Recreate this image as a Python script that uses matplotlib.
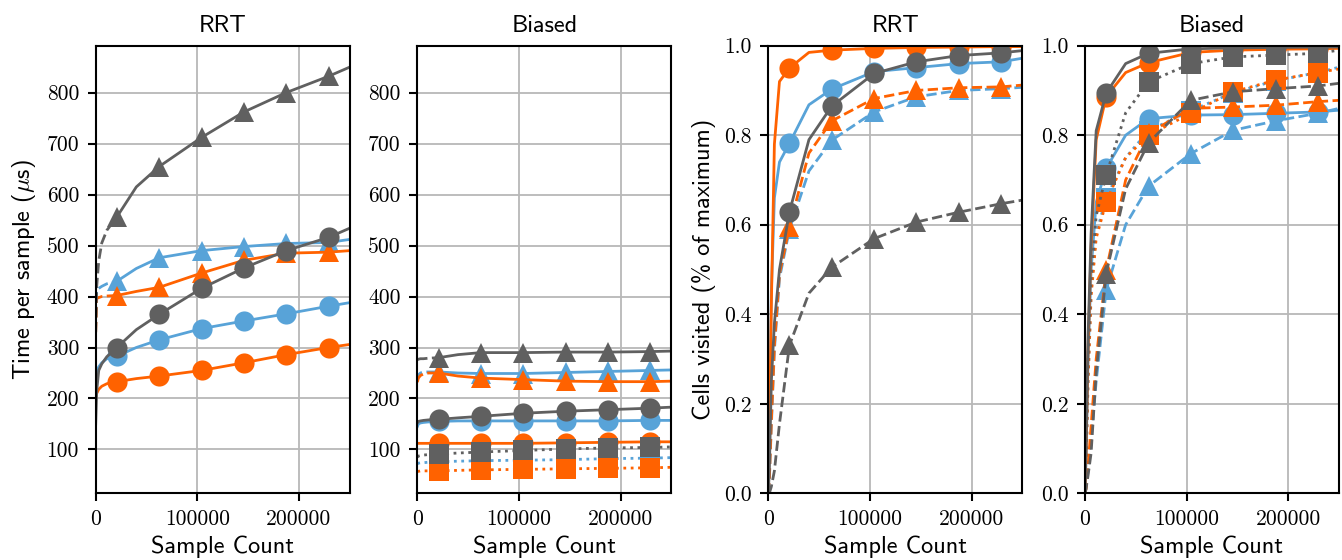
import matplotlib
matplotlib.use("Agg")
import matplotlib.pyplot as plt
from matplotlib.ticker import FuncFormatter

# sample counts at which values were read (markers sit on indices 5, 7..11)
samples = [0, 1000, 3000, 6000, 11000, 20833, 40000, 62500, 104167, 145833, 187500, 229167, 250000]
mark_idx = [5, 7, 8, 9, 10, 11]

# time per sample, RRT
rrt_time_blue_circ = [225, 250, 262, 270, 278, 283, 300, 315, 337, 352, 366, 381, 388]
rrt_time_orange_circ = [200, 210, 218, 224, 229, 233, 239, 244, 255, 270, 286, 300, 306]
rrt_time_gray_circ = [150, 215, 255, 268, 282, 300, 335, 365, 416, 456, 490, 516, 534]
rrt_time_blue_tri = [360, 412, 416, 420, 425, 430, 455, 476, 490, 498, 504, 506, 512]
rrt_time_orange_tri = [330, 396, 398, 400, 401, 402, 410, 418, 446, 471, 485, 487, 490]
rrt_time_gray_tri = [330, 420, 470, 505, 530, 556, 615, 655, 712, 762, 800, 832, 850]

# time per sample, Biased
bia_time_blue_circ = [145, 150, 152, 153, 154, 155, 156, 156, 156, 156, 156, 157, 157]
bia_time_orange_circ = [112, 112, 112, 112, 112, 112, 112, 112, 112, 113, 114, 115, 115]
bia_time_gray_circ = [152, 155, 156, 157, 158, 159, 162, 165, 171, 175, 178, 181, 183]
bia_time_blue_tri = [235, 246, 250, 252, 252, 252, 250, 249, 249, 251, 253, 255, 256]
bia_time_orange_tri = [232, 240, 245, 248, 250, 250, 244, 240, 237, 234, 233, 233, 234]
bia_time_gray_tri = [276, 277, 278, 278, 279, 280, 286, 290, 290, 291, 291, 292, 293]
bia_time_blue_sq = [72, 73, 74, 74, 75, 76, 77, 78, 79, 80, 82, 83, 84]
bia_time_orange_sq = [57, 57, 58, 58, 58, 58, 59, 60, 61, 62, 63, 64, 65]
bia_time_gray_sq = [85, 87, 88, 89, 90, 91, 93, 95, 98, 101, 103, 104, 105]

# cells visited, RRT
rrt_cov_blue_circ = [0, 0.15, 0.45, 0.66, 0.74, 0.782, 0.868, 0.903, 0.942, 0.951, 0.96, 0.964, 0.972]
rrt_cov_orange_circ = [0, 0.12, 0.42, 0.78, 0.92, 0.95, 0.985, 0.99, 0.994, 0.996, 0.997, 0.998, 0.998]
rrt_cov_gray_circ = [0, 0.05, 0.25, 0.38, 0.50, 0.629, 0.79, 0.865, 0.938, 0.964, 0.978, 0.984, 0.989]
rrt_cov_blue_tri = [0, 0.03, 0.15, 0.32, 0.48, 0.59, 0.72, 0.789, 0.852, 0.886, 0.9, 0.904, 0.907]
rrt_cov_orange_tri = [0, 0.03, 0.16, 0.33, 0.49, 0.596, 0.76, 0.832, 0.882, 0.9, 0.906, 0.908, 0.912]
rrt_cov_gray_tri = [0, 0.0, 0.015, 0.05, 0.155, 0.331, 0.447, 0.505, 0.569, 0.606, 0.628, 0.647, 0.655]

# cells visited, Biased
bia_cov_blue_circ = [0, 0.08, 0.3, 0.5, 0.65, 0.726, 0.80, 0.837, 0.845, 0.846, 0.849, 0.852, 0.856]
bia_cov_orange_circ = [0, 0.09, 0.32, 0.55, 0.79, 0.886, 0.94, 0.962, 0.985, 0.99, 0.992, 0.993, 0.994]
bia_cov_gray_circ = [0, 0.10, 0.35, 0.58, 0.81, 0.894, 0.96, 0.983, 0.993, 0.995, 0.996, 0.997, 0.997]
bia_cov_blue_tri = [0, 0.01, 0.05, 0.12, 0.25, 0.454, 0.6, 0.686, 0.759, 0.811, 0.832, 0.849, 0.86]
bia_cov_orange_tri = [0, 0.01, 0.06, 0.15, 0.30, 0.498, 0.70, 0.804, 0.86, 0.863, 0.867, 0.875, 0.878]
bia_cov_gray_tri = [0, 0.01, 0.04, 0.09, 0.27, 0.491, 0.68, 0.783, 0.878, 0.897, 0.904, 0.91, 0.916]
bia_cov_blue_sq = [0, 0.06, 0.25, 0.45, 0.58, 0.66, 0.75, 0.81, 0.855, 0.895, 0.922, 0.94, 0.952]
bia_cov_orange_sq = [0, 0.06, 0.25, 0.44, 0.57, 0.651, 0.75, 0.80, 0.849, 0.897, 0.923, 0.94, 0.948]
bia_cov_gray_sq = [0, 0.08, 0.30, 0.48, 0.62, 0.711, 0.85, 0.919, 0.96, 0.975, 0.979, 0.983, 0.99]

BLUE = "#58a3d8"
ORANGE = "#ff6200"
GRAY = "#606060"

plt.rcParams["mathtext.fontset"] = "cm"

fig = plt.figure(figsize=(13.42, 5.6), dpi=100)
W = 0.1893
H = 0.7993
B = 0.1191
ax1 = fig.add_axes([0.0713, B, W, H])
ax2 = fig.add_axes([0.3110, B, W, H])
ax3 = fig.add_axes([0.5725, B, W, H])
ax4 = fig.add_axes([0.8085, B, W, H])

MS = 14.5
LW = 2.0


def draw(ax, y, color, marker, ls, split=False):
    # markers only on the evenly spaced samples
    if split:
        # early part dashed, rest drawn solid (dense noisy data looks solid)
        ax.plot(samples[:6], y[:6], color=color, ls=ls, lw=LW, zorder=2)
        ax.plot(samples[5:], y[5:], color=color, ls="-", lw=LW, zorder=2)
    else:
        ax.plot(samples, y, color=color, ls=ls, lw=LW, zorder=2)
    ax.plot([samples[i] for i in mark_idx], [y[i] for i in mark_idx], ls="none",
            marker=marker, ms=MS, color=color, mec=color, mew=0, zorder=2)


draw(ax1, rrt_time_blue_circ, BLUE, "o", "-")
draw(ax1, rrt_time_blue_tri, BLUE, "^", "--", split=True)
draw(ax1, rrt_time_orange_circ, ORANGE, "o", "-")
draw(ax1, rrt_time_orange_tri, ORANGE, "^", "--", split=True)
draw(ax1, rrt_time_gray_circ, GRAY, "o", "-")
draw(ax1, rrt_time_gray_tri, GRAY, "^", "--", split=True)

draw(ax2, bia_time_blue_circ, BLUE, "o", "-")
draw(ax2, bia_time_blue_tri, BLUE, "^", "--", split=True)
draw(ax2, bia_time_blue_sq, BLUE, "s", ":")
draw(ax2, bia_time_orange_circ, ORANGE, "o", "-")
draw(ax2, bia_time_orange_tri, ORANGE, "^", "--", split=True)
draw(ax2, bia_time_orange_sq, ORANGE, "s", ":")
draw(ax2, bia_time_gray_circ, GRAY, "o", "-")
draw(ax2, bia_time_gray_tri, GRAY, "^", "--", split=True)
draw(ax2, bia_time_gray_sq, GRAY, "s", ":")

draw(ax3, rrt_cov_blue_circ, BLUE, "o", "-")
draw(ax3, rrt_cov_blue_tri, BLUE, "^", "--")
draw(ax3, rrt_cov_orange_circ, ORANGE, "o", "-")
draw(ax3, rrt_cov_orange_tri, ORANGE, "^", "--")
draw(ax3, rrt_cov_gray_circ, GRAY, "o", "-")
draw(ax3, rrt_cov_gray_tri, GRAY, "^", "--")

draw(ax4, bia_cov_blue_circ, BLUE, "o", "-")
draw(ax4, bia_cov_blue_tri, BLUE, "^", "--")
draw(ax4, bia_cov_blue_sq, BLUE, "s", ":")
draw(ax4, bia_cov_orange_circ, ORANGE, "o", "-")
draw(ax4, bia_cov_orange_tri, ORANGE, "^", "--")
draw(ax4, bia_cov_orange_sq, ORANGE, "s", ":")
draw(ax4, bia_cov_gray_circ, GRAY, "o", "-")
draw(ax4, bia_cov_gray_tri, GRAY, "^", "--")
draw(ax4, bia_cov_gray_sq, GRAY, "s", ":")

xfmt = FuncFormatter(lambda v, p: "%d" % v)
t_fmt = FuncFormatter(lambda v, p: "%d" % v)
c_fmt = FuncFormatter(lambda v, p: "%.1f" % v)

for ax, title in zip([ax1, ax2, ax3, ax4], ["RRT", "Biased", "RRT", "Biased"]):
    ax.set_xlim(0, 250000)
    ax.set_xticks([0, 100000, 200000])
    ax.xaxis.set_major_formatter(xfmt)
    ax.grid(True, color="#b8b8b8", lw=1.3, zorder=0)
    ax.set_axisbelow(True)
    for s in ax.spines.values():
        s.set_linewidth(1.5)
        s.set_zorder(5)
    ax.tick_params(length=6, width=1.5, pad=6, labelsize=15.5)
    ax.set_title(title, fontfamily="cmss10", fontsize=17.5, pad=10)
    ax.set_xlabel("Sample Count", fontfamily="cmss10", fontsize=17.5, labelpad=4)

for ax in [ax1, ax2]:
    ax.set_ylim(14, 892)
    ax.set_yticks(range(100, 801, 100))
    ax.yaxis.set_major_formatter(t_fmt)
for ax in [ax3, ax4]:
    ax.set_ylim(0, 1)
    ax.set_yticks([0, 0.2, 0.4, 0.6, 0.8, 1.0])
    ax.yaxis.set_major_formatter(c_fmt)

for ax in [ax1, ax2, ax3, ax4]:
    for lab in ax.get_xticklabels() + ax.get_yticklabels():
        lab.set_fontfamily("cmr10")

ax1.set_ylabel(r"Time per sample ($\mu$s)", fontfamily="cmss10", fontsize=17.5, labelpad=6)
ax3.set_ylabel("Cells visited (% of maximum)", fontfamily="cmss10", fontsize=17.5, labelpad=6)

fig.savefig("out.png", dpi=100)
